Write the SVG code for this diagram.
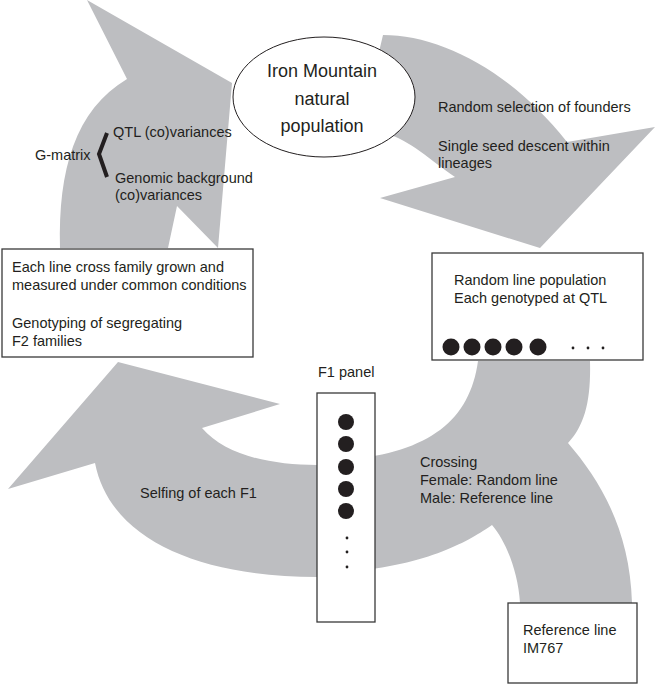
<svg xmlns="http://www.w3.org/2000/svg" width="656" height="684" viewBox="0 0 656 684">
<style>
.band{fill:#bdbec1;stroke:none}
.box{fill:#fff;stroke:#3a3a3a;stroke-width:1.3}
.t{font-family:"Liberation Sans",Arial,sans-serif;font-size:14.5px;fill:#231f20}
.big{font-family:"Liberation Sans",Arial,sans-serif;font-size:18px;fill:#231f20;text-anchor:middle}
.dot{fill:#231f20}
</style>
<rect width="656" height="684" fill="#fff"/>
<g id="connectors">
<path class="band" d="M60,248 C58,170 75,110 127,79 L87,0 L232,83 L218,248 L177,206 L168,248 Z"/>
<path class="band" d="M370,90 L383,35 C440,35 510,70 567,142 L655,127 L540,248 L380,198 L455,177 C430,160 410,140 385,133 Z"/>
<path class="band" d="M478,361 L590,361 C591,400 585,425 568,443 C600,480 630,530 632,603 L520,603 C518,570 505,540 492,525 C470,540 430,565 346,572 L346,460 C430,452 470,420 478,361 Z"/>
<path class="band" d="M346,465 L317,465 C270,465 225,455 202,428 L280,404 L118,362 L8,489 L95,463 C110,540 200,577 317,577 L346,577 Z"/>
</g>
<g id="iron-mountain">
<ellipse cx="324" cy="97" rx="91" ry="60" fill="#fff" stroke="#231f20" stroke-width="1"/>
<text class="big" x="322" y="77">Iron Mountain</text>
<text class="big" x="322" y="105">natural</text>
<text class="big" x="322" y="132">population</text>
</g>
<g id="founders-label">
<text class="t" x="438" y="112">Random selection of founders</text>
<text class="t" x="438" y="151">Single seed descent within</text>
<text class="t" x="438" y="168">lineages</text>
</g>
<g id="g-matrix">
<polyline points="107,133 99,154 107,177" fill="none" stroke="#231f20" stroke-width="4"/>
<text class="t" x="35" y="160">G-matrix</text>
<text class="t" x="113" y="137">QTL (co)variances</text>
<text class="t" x="115" y="183">Genomic background</text>
<text class="t" x="115" y="200">(co)variances</text>
</g>
<g id="family-box">
<rect class="box" x="2" y="249" width="251" height="108"/>
<text class="t" x="12" y="272">Each line cross family grown and</text>
<text class="t" x="12" y="290">measured under common conditions</text>
<text class="t" x="12" y="328">Genotyping of segregating</text>
<text class="t" x="12" y="346">F2 families</text>
</g>
<g id="random-line-box">
<rect class="box" x="432" y="253" width="211" height="107"/>
<text class="t" x="454" y="285">Random line population</text>
<text class="t" x="454" y="303">Each genotyped at QTL</text>
<circle class="dot" cx="451" cy="347" r="8.5"/>
<circle class="dot" cx="472" cy="347" r="8.5"/>
<circle class="dot" cx="493" cy="347" r="8.5"/>
<circle class="dot" cx="514" cy="347" r="8.5"/>
<circle class="dot" cx="538" cy="347" r="8.5"/>
<circle class="dot" cx="573" cy="348" r="1.4"/>
<circle class="dot" cx="588" cy="348" r="1.4"/>
<circle class="dot" cx="603" cy="348" r="1.4"/>
</g>
<g id="f1-panel">
<text class="t" x="318" y="377">F1 panel</text>
<rect class="box" x="317" y="393" width="58" height="229"/>
<circle class="dot" cx="346" cy="422" r="8"/>
<circle class="dot" cx="346" cy="444" r="8"/>
<circle class="dot" cx="346" cy="467" r="8"/>
<circle class="dot" cx="346" cy="489" r="8"/>
<circle class="dot" cx="346" cy="511" r="8"/>
<circle class="dot" cx="347" cy="538" r="1.4"/>
<circle class="dot" cx="347" cy="552" r="1.4"/>
<circle class="dot" cx="347" cy="567" r="1.4"/>
</g>
<g id="crossing-label">
<text class="t" x="420" y="467">Crossing</text>
<text class="t" x="420" y="485">Female: Random line</text>
<text class="t" x="420" y="503">Male: Reference line</text>
</g>
<g id="selfing-label">
<text class="t" x="140" y="498">Selfing of each F1</text>
</g>
<g id="reference-box">
<rect class="box" x="508" y="603" width="129" height="80"/>
<text class="t" x="523" y="635">Reference line</text>
<text class="t" x="523" y="653">IM767</text>
</g>
</svg>
